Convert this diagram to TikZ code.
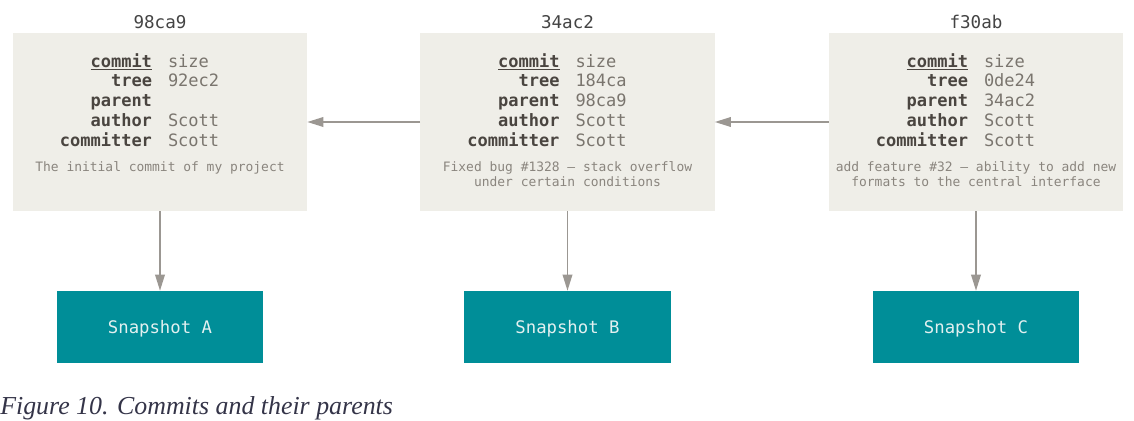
\documentclass[tikz,border=0pt]{standalone}
\usepackage{fontspec}
\usepackage{array}
\setmonofont{DejaVu Sans Mono}
\newfontfamily\capfont{Liberation Serif}
\usetikzlibrary{arrows.meta}

\definecolor{boxfill}{RGB}{239,238,232}
\definecolor{snapfill}{RGB}{0,142,152}
\definecolor{snaptext}{RGB}{226,240,240}
\definecolor{keycol}{RGB}{74,69,64}
\definecolor{valcol}{RGB}{122,117,110}
\definecolor{msgcol}{RGB}{138,133,126}
\definecolor{arrowcol}{RGB}{155,151,146}
\definecolor{hashcol}{RGB}{68,68,68}
\definecolor{capcol}{RGB}{52,52,72}

\newcolumntype{K}{>{\raggedleft\arraybackslash\bfseries\leavevmode\color{keycol}}p{3.2cm}}
\newcolumntype{V}{>{\raggedright\arraybackslash\leavevmode\color{valcol}}p{3.2cm}}

\begin{document}
\begin{tikzpicture}[x=0.025cm,y=-0.025cm,
    commitbox/.style={fill=boxfill,minimum width=7.35cm,minimum height=4.45cm,inner sep=0},
    snapbox/.style={fill=snapfill,minimum width=5.15cm,minimum height=1.8cm,inner sep=0,
        text depth=0pt,text=snaptext,font=\ttfamily\fontsize{12.3}{14}\selectfont},
    hash/.style={anchor=base,inner sep=0,text=hashcol,font=\ttfamily\fontsize{12.5}{14}\selectfont},
    info/.style={anchor=base,inner sep=0,font=\ttfamily\fontsize{12.1}{14.2}\selectfont},
    msg/.style={anchor=base,inner sep=0,text=msgcol,font=\ttfamily\fontsize{9.2}{10.7}\selectfont},
    link/.style={draw=arrowcol,line width=1.1pt,-{Triangle[length=0.4cm,width=0.24cm]}}]

    \useasboundingbox (0,0) rectangle (1134,421);

    %commit boxes
    \node[commitbox] (commitA) at (160,122) {};
    \node[commitbox] (commitB) at (567.5,122) {};
    \node[commitbox] (commitC) at (976,122) {};

    %hashes above the boxes
    \node[hash] (hashA) at (160,29) {98ca9};
    \node[hash] (hashB) at (567.5,29) {34ac2};
    \node[hash] (hashC) at (976,29) {f30ab};

    %first commit
    \node[info] (infoA) at (160,67) {\begin{tabular}[t]{@{}K@{\hspace{0.4cm}}V@{}}
        \underline{commit} & size\\
        tree & 92ec2\\
        parent & \\
        author & Scott\\
        committer & Scott
    \end{tabular}};
    \node[msg] (msgA) at (160,171) {\begin{tabular}[t]{@{}c@{}}The initial commit of my project\end{tabular}};

    %second commit
    \node[info] (infoB) at (567.5,67) {\begin{tabular}[t]{@{}K@{\hspace{0.4cm}}V@{}}
        \underline{commit} & size\\
        tree & 184ca\\
        parent & 98ca9\\
        author & Scott\\
        committer & Scott
    \end{tabular}};
    \node[msg] (msgB) at (567.5,171) {\begin{tabular}[t]{@{}c@{}}Fixed bug \#1328 – stack overflow\\under certain conditions\end{tabular}};

    %third commit
    \node[info] (infoC) at (976,67) {\begin{tabular}[t]{@{}K@{\hspace{0.4cm}}V@{}}
        \underline{commit} & size\\
        tree & 0de24\\
        parent & 34ac2\\
        author & Scott\\
        committer & Scott
    \end{tabular}};
    \node[msg] (msgC) at (976,171) {\begin{tabular}[t]{@{}c@{}}add feature \#32 – ability to add new\\formats to the central interface\end{tabular}};

    %snapshots
    \node[snapbox] (snapA) at (160,327) {Snapshot A};
    \node[snapbox] (snapB) at (567.5,327) {Snapshot B};
    \node[snapbox] (snapC) at (976,327) {Snapshot C};

    %parent links
    \draw[link] (commitB.west) -- (commitA.east);
    \draw[link] (commitC.west) -- (commitB.east);

    %tree links
    \draw[link] (commitA.south) -- (snapA.north);
    \draw[link] (commitB.south) -- (snapB.north);
    \draw[link] (commitC.south) -- (snapC.north);

    \node[anchor=base west,inner sep=0,text=capcol,font=\capfont\itshape\fontsize{18.4}{21}\selectfont] (caption) at (0,414) {Figure 10. Commits and their parents};

\end{tikzpicture}
\end{document}
